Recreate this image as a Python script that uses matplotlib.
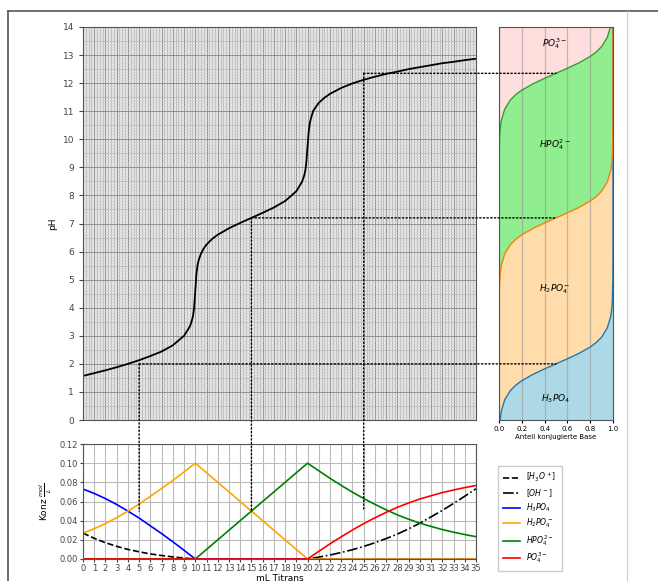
from matplotlib import pyplot as plt
from matplotlib.ticker import MultipleLocator
from matplotlib.patches import ConnectionPatch
from matplotlib.lines import Line2D

# titration curve
vol = [0, 1, 2, 3, 4, 5, 6, 7, 8, 9, 9.5, 9.6, 9.7, 9.8, 9.9, 9.95, 10, 10.05, 10.1,
       10.2, 10.3, 10.5, 10.75, 11, 11.5, 12, 13, 14, 15, 16, 17, 18, 19, 19.5, 19.7,
       19.8, 19.9, 19.95, 20, 20.05, 20.1, 20.2, 20.3, 20.5, 20.75, 21, 21.5, 22, 23,
       24, 25, 26, 27, 28, 29, 30, 31, 32, 33, 34, 35]
ph = [1.57, 1.67, 1.77, 1.88, 2.0, 2.13, 2.28, 2.44, 2.66, 3.0, 3.32, 3.42, 3.55,
      3.71, 4.0, 4.3, 4.6, 4.9, 5.2, 5.51, 5.69, 5.92, 6.11, 6.25, 6.45, 6.6, 6.83,
      7.02, 7.2, 7.38, 7.57, 7.8, 8.15, 8.48, 8.71, 8.89, 9.2, 9.5, 9.75, 10.0, 10.28,
      10.57, 10.75, 11.01, 11.16, 11.3, 11.48, 11.62, 11.83, 11.99, 12.12, 12.23, 12.33,
      12.41, 12.5, 12.57, 12.64, 12.71, 12.76, 12.82, 12.87]

# half equivalence points (ml, pH)
half_ml = [5, 15, 25]
half_ph = [2.0, 7.2, 12.35]

# species fractions (x = Anteil konjugierte Base, y = pH)
frac_h3po4 = [0.01, 0.02, 0.05, 0.1, 0.15, 0.2, 0.3, 0.4, 0.5, 0.6, 0.7, 0.8, 0.85, 0.9,
              0.95, 0.98, 0.99, 0.995, 0.999, 1.0, 1.0]
ph_h3po4 = [0.0, 0.31, 0.72, 1.05, 1.25, 1.4, 1.63, 1.82, 2.0, 2.18, 2.37, 2.6, 2.75, 2.95,
            3.28, 3.69, 4.0, 4.3, 5.0, 6.0, 14.0]
frac_h2po4 = [0.0, 0.001, 0.005, 0.01, 0.02, 0.05, 0.1, 0.15, 0.2, 0.3, 0.4, 0.5, 0.6, 0.7,
              0.8, 0.85, 0.9, 0.95, 0.98, 0.99, 0.995, 0.999, 1.0, 1.0]
ph_h2po4 = [0.0, 4.2, 4.9, 5.2, 5.51, 5.92, 6.25, 6.45, 6.6, 6.83, 7.02, 7.2, 7.38, 7.57,
            7.8, 7.95, 8.15, 8.48, 8.89, 9.2, 9.5, 10.2, 11.0, 14.0]
frac_hpo4 = [0.0, 0.001, 0.005, 0.01, 0.02, 0.05, 0.1, 0.15, 0.2, 0.3, 0.4, 0.5, 0.6, 0.7,
             0.8, 0.85, 0.9, 0.95, 0.978, 1.0]
ph_hpo4 = [0.0, 9.35, 10.05, 10.35, 10.66, 11.07, 11.4, 11.6, 11.75, 11.98, 12.17, 12.35,
           12.53, 12.72, 12.95, 13.1, 13.3, 13.63, 14.0, 14.0]

# concentrations vs. ml titrant
conc_ml = list(range(36))
c_h3o = [0.027, 0.0216, 0.017, 0.0132, 0.010, 0.0075, 0.0053, 0.0036, 0.0022, 0.001, 0.0,
         0, 0, 0, 0, 0, 0, 0, 0, 0, 0, 0, 0, 0, 0, 0, 0, 0, 0, 0, 0, 0, 0, 0, 0, 0]
c_oh = [0, 0, 0, 0, 0, 0, 0, 0, 0, 0, 0, 0, 0, 0, 0, 0, 0, 0, 0, 0, 0,
        0.002, 0.0042, 0.0068, 0.0097, 0.0131, 0.017, 0.0213, 0.026, 0.0315, 0.0374,
        0.044, 0.0507, 0.058, 0.0655, 0.0733]
c_h3po4 = [0.073, 0.0684, 0.063, 0.0569, 0.05, 0.0427, 0.0346, 0.0265, 0.018, 0.0091, 0.0,
           0, 0, 0, 0, 0, 0, 0, 0, 0, 0, 0, 0, 0, 0, 0, 0, 0, 0, 0, 0, 0, 0, 0, 0, 0]
c_h2po4 = [0.027, 0.0316, 0.037, 0.0431, 0.05, 0.0573, 0.0654, 0.0735, 0.082, 0.0909, 0.1,
           0.09, 0.08, 0.07, 0.06, 0.05, 0.04, 0.03, 0.02, 0.01, 0.0,
           0, 0, 0, 0, 0, 0, 0, 0, 0, 0, 0, 0, 0, 0, 0]
c_hpo4 = [0, 0, 0, 0, 0, 0, 0, 0, 0, 0, 0,
          0.01, 0.02, 0.03, 0.04, 0.05, 0.06, 0.07, 0.08, 0.09, 0.1,
          0.092, 0.0842, 0.0768, 0.0697, 0.0631, 0.057, 0.0513, 0.046, 0.0415, 0.0374,
          0.034, 0.0307, 0.028, 0.0255, 0.0233]
c_po4 = [0, 0, 0, 0, 0, 0, 0, 0, 0, 0, 0, 0, 0, 0, 0, 0, 0, 0, 0, 0, 0,
         0.008, 0.0158, 0.0232, 0.0303, 0.0369, 0.043, 0.0487, 0.054, 0.0585, 0.0626,
         0.066, 0.0693, 0.072, 0.0745, 0.0767]

W, H = 658, 581
fig = plt.figure(figsize=(W / 100, H / 100), dpi=100)
fs = 6.5

def box(l, t, r, b):
    return [l / W, 1 - b / H, (r - l) / W, (b - t) / H]

# --- main titration plot
ax = fig.add_axes(box(83, 27, 476, 420))
ax.plot(vol, ph, color='k', lw=1.3)
ax.set_xlim(0, 35)
ax.set_ylim(0, 14)
ax.xaxis.set_major_locator(MultipleLocator(1))
ax.xaxis.set_minor_locator(MultipleLocator(0.25))
ax.yaxis.set_major_locator(MultipleLocator(1))
ax.yaxis.set_minor_locator(MultipleLocator(0.1))
ax.grid(which='major', color='#909090', lw=0.7)
ax.grid(axis='x', which='minor', color='#b8b8b8', lw=0.6)
ax.grid(axis='y', which='minor', color='#d2d2d2', lw=0.4)
for y in range(14):
    ax.axhline(y + 0.5, color='#a0a0a0', lw=0.6, zorder=0.5)
ax.set_facecolor('#e6e6e6')
ax.set_axisbelow(True)
ax.tick_params(axis='x', which='both', labelbottom=False, length=0)
ax.tick_params(axis='y', which='minor', length=0)
ax.tick_params(axis='y', labelsize=fs, length=3, colors='#444444')
ax.set_ylabel('pH', fontsize=fs)
for s in ax.spines.values():
    s.set_color('#555555')

# --- species distribution
ax2 = fig.add_axes(box(499, 27, 613, 420))
ax2.set_facecolor('#ffdede')
ax2.fill_between(frac_hpo4, 0, ph_hpo4, color='lightgreen', lw=0)
ax2.fill_between(frac_h2po4, 0, ph_h2po4, color='#ffdcaa', lw=0)
ax2.fill_between(frac_h3po4, 0, ph_h3po4, color='lightblue', lw=0)
ax2.plot(frac_h3po4, ph_h3po4, color='tab:blue', lw=1)
ax2.plot(frac_h2po4, ph_h2po4, color='tab:orange', lw=1)
ax2.plot(frac_hpo4, ph_hpo4, color='tab:green', lw=1)
ax2.set_xlim(0, 1)
ax2.set_ylim(0, 14)
ax2.xaxis.set_major_locator(MultipleLocator(0.2))
ax2.grid(axis='x', color='#9a9a9a', alpha=0.6, lw=0.9)
ax2.set_yticks([])
ax2.tick_params(axis='x', labelsize=5, length=2, pad=2)
ax2.set_xlabel('Anteil konjugierte Base', fontsize=5, labelpad=2)
ax2.text(0.49, 13.4, r'$PO_4^{3-}$', fontsize=fs, ha='center', va='center')
ax2.text(0.49, 9.8, r'$HPO_4^{2-}$', fontsize=fs, ha='center', va='center')
ax2.text(0.49, 4.65, r'$H_2PO_4^{-}$', fontsize=fs, ha='center', va='center')
ax2.text(0.5, 0.75, r'$H_3PO_4$', fontsize=fs, ha='center', va='center')
for s in ax2.spines.values():
    s.set_color('#555555')

# --- concentrations
ax3 = fig.add_axes(box(83, 444, 476, 559))
ax3.plot(conc_ml, c_h3o, 'k--', lw=1.2, label=r'$[H_3O^+]$')
ax3.plot(conc_ml, c_oh, 'k-.', lw=1.2, label=r'$[OH^-]$')
ax3.plot(conc_ml, c_h3po4, color='blue', lw=1.2, label=r'$H_3PO_4$')
ax3.plot(conc_ml, c_h2po4, color='orange', lw=1.2, label=r'$H_2PO_4^-$')
ax3.plot(conc_ml, c_hpo4, color='green', lw=1.2, label=r'$HPO_4^{2-}$')
ax3.plot(conc_ml, c_po4, color='red', lw=1.2, label=r'$PO_4^{3-}$')
ax3.set_xlim(0, 35)
ax3.set_ylim(0, 0.12)
ax3.xaxis.set_major_locator(MultipleLocator(1))
ax3.yaxis.set_major_locator(MultipleLocator(0.02))
ax3.yaxis.set_major_formatter('{x:.2f}')
ax3.grid(color='#bbbbbb', lw=0.8)
ax3.tick_params(labelsize=fs - 0.5, length=2, pad=1.5, colors='#444444')
ax3.set_ylabel(r'Konz $\frac{mol}{L}$', fontsize=fs)
ax3.set_xlabel('mL Titrans', fontsize=fs, labelpad=1)
for s in ax3.spines.values():
    s.set_color('#555555')
fig.legend(loc='upper left', bbox_to_anchor=(494 / W, 1 - 462 / H), fontsize=5.5,
           handlelength=2.2, labelspacing=0.35, borderpad=0.7, framealpha=1,
           edgecolor='#cccccc', fancybox=False)

# dotted guide lines
for m, p in zip(half_ml, half_ph):
    for a, b, xy_b in ((ax3, ax, (m, 0.05)), (ax2, ax, (0.5, p))):
        con = ConnectionPatch(xyA=(m, p), coordsA=b.transData, xyB=xy_b,
                              coordsB=a.transData, ls=':', color='k', lw=1)
        fig.add_artist(con)

# frame of the screenshot
fig.add_artist(Line2D([8 / W, 1], [1 - 11 / H, 1 - 11 / H], color='#555555', lw=1.2))
fig.add_artist(Line2D([8 / W, 8 / W], [0, 1 - 11 / H], color='#555555', lw=1.2))
fig.add_artist(Line2D([627 / W, 627 / W], [0, 1 - 11 / H], color='#cccccc', lw=0.8))

fig.savefig('out.png', dpi=100)
